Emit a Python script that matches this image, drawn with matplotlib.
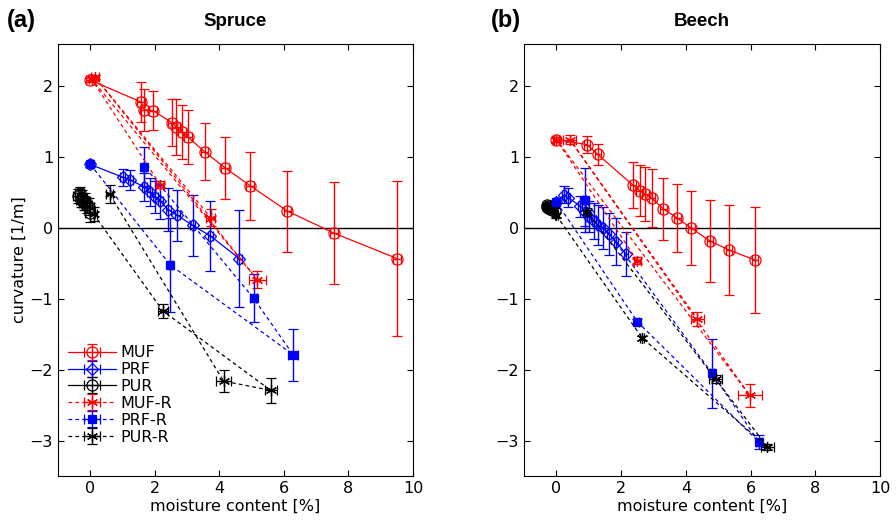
import numpy as np
import matplotlib
matplotlib.use("Agg")
import matplotlib.pyplot as plt

# ---- Spruce ----
sp_muf_x = [0.0, 1.58, 1.67, 1.94, 2.53, 2.66, 2.84, 3.02, 3.54, 4.18, 4.95, 6.11, 7.55, 9.51]
sp_muf_y = [2.09, 1.78, 1.67, 1.66, 1.49, 1.43, 1.36, 1.29, 1.08, 0.85, 0.60, 0.24, -0.07, -0.43]
sp_muf_ye = [0.03, 0.28, 0.30, 0.27, 0.33, 0.40, 0.38, 0.38, 0.40, 0.44, 0.48, 0.57, 0.72, 1.10]
sp_muf_xe = [0.12] * 14

sp_prf_x = [0.0, 1.00, 1.24, 1.68, 1.84, 2.01, 2.17, 2.42, 2.70, 3.17, 3.72, 4.62]
sp_prf_y = [0.90, 0.72, 0.68, 0.58, 0.51, 0.44, 0.38, 0.26, 0.18, 0.04, -0.11, -0.43]
sp_prf_ye = [0.03, 0.12, 0.14, 0.20, 0.20, 0.22, 0.25, 0.30, 0.36, 0.43, 0.50, 0.68]
sp_prf_xe = [0.08] * 12

sp_pur_x = [-0.38, -0.33, -0.30, -0.25, -0.20, -0.15, -0.10, -0.05, 0.0]
sp_pur_y = [0.45, 0.50, 0.40, 0.42, 0.35, 0.38, 0.32, 0.30, 0.22]
sp_pur_ye = [0.10, 0.08, 0.10, 0.12, 0.10, 0.12, 0.10, 0.12, 0.14]
sp_pur_xe = [0.15] * 9

sp_mufr_x = [2.17, 0.05, 5.18, 0.15, 3.73]
sp_mufr_y = [0.61, 2.10, -0.73, 2.13, 0.15]
sp_mufr_ye = [0.05, 0.03, 0.12, 0.03, 0.12]
sp_mufr_xe = [0.12, 0.08, 0.25, 0.12, 0.13]

sp_prfr_x = [0.0, 2.48, 6.29, 5.06, 1.68]
sp_prfr_y = [0.90, -0.52, -1.79, -0.99, 0.87]
sp_prfr_ye = [0.03, 0.67, 0.37, 0.34, 0.28]
sp_prfr_xe = [0.05, 0.05, 0.15, 0.12, 0.05]

sp_purr_x = [0.10, 2.25, 5.59, 4.13, 0.60]
sp_purr_y = [0.20, -1.17, -2.29, -2.16, 0.48]
sp_purr_ye = [0.10, 0.10, 0.18, 0.16, 0.13]
sp_purr_xe = [0.10, 0.15, 0.19, 0.23, 0.10]

# ---- Beech ----
be_muf_x = [0.0, 0.94, 1.28, 2.36, 2.57, 2.75, 2.95, 3.31, 3.74, 4.17, 4.74, 5.34, 6.14]
be_muf_y = [1.25, 1.18, 1.04, 0.61, 0.53, 0.48, 0.42, 0.27, 0.14, 0.0, -0.18, -0.31, -0.45]
be_muf_ye = [0.03, 0.12, 0.15, 0.33, 0.36, 0.38, 0.41, 0.44, 0.48, 0.52, 0.58, 0.64, 0.75]
be_muf_xe = [0.1] * 13

be_prf_x = [0.0, 0.23, 0.37, 0.74, 0.87, 1.02, 1.15, 1.28, 1.43, 1.62, 1.85, 2.14]
be_prf_y = [0.37, 0.47, 0.43, 0.31, 0.23, 0.16, 0.10, 0.04, 0.0, -0.08, -0.19, -0.36]
be_prf_ye = [0.03, 0.12, 0.13, 0.15, 0.20, 0.22, 0.25, 0.28, 0.30, 0.30, 0.33, 0.31]
be_prf_xe = [0.06] * 12

be_pur_x = [-0.30, -0.28, -0.25, -0.22, -0.20, -0.17, -0.12, -0.05]
be_pur_y = [0.30, 0.32, 0.28, 0.31, 0.27, 0.29, 0.26, 0.24]
be_pur_ye = [0.04] * 8
be_pur_xe = [0.08] * 8

be_mufr_x = [2.50, 0.0, 5.97, 0.42, 4.35]
be_mufr_y = [-0.46, 1.25, -2.36, 1.25, -1.28]
be_mufr_ye = [0.05, 0.03, 0.16, 0.06, 0.10]
be_mufr_xe = [0.10, 0.08, 0.37, 0.20, 0.20]

be_prfr_x = [0.0, 2.50, 6.26, 4.81, 0.87]
be_prfr_y = [0.37, -1.32, -3.02, -2.05, 0.40]
be_prfr_ye = [0.03, 0.04, 0.10, 0.49, 0.45]
be_prfr_xe = [0.05, 0.06, 0.10, 0.07, 0.05]

be_purr_x = [0.0, 2.65, 6.52, 4.92, 0.94]
be_purr_y = [0.18, -1.55, -3.09, -2.13, 0.23]
be_purr_ye = [0.03, 0.03, 0.04, 0.06, 0.05]
be_purr_xe = [0.05, 0.06, 0.19, 0.20, 0.05]

labels = ["MUF", "PRF", "PUR", "MUF-R", "PRF-R", "PUR-R"]
colors = ["red", "blue", "black", "red", "blue", "black"]
markers = ["o", "D", "o", (6, 2, 0), "s", (6, 2, 0)]

spruce = [
    (sp_muf_x, sp_muf_y, sp_muf_xe, sp_muf_ye),
    (sp_prf_x, sp_prf_y, sp_prf_xe, sp_prf_ye),
    (sp_pur_x, sp_pur_y, sp_pur_xe, sp_pur_ye),
    (sp_mufr_x, sp_mufr_y, sp_mufr_xe, sp_mufr_ye),
    (sp_prfr_x, sp_prfr_y, sp_prfr_xe, sp_prfr_ye),
    (sp_purr_x, sp_purr_y, sp_purr_xe, sp_purr_ye),
]
beech = [
    (be_muf_x, be_muf_y, be_muf_xe, be_muf_ye),
    (be_prf_x, be_prf_y, be_prf_xe, be_prf_ye),
    (be_pur_x, be_pur_y, be_pur_xe, be_pur_ye),
    (be_mufr_x, be_mufr_y, be_mufr_xe, be_mufr_ye),
    (be_prfr_x, be_prfr_y, be_prfr_xe, be_prfr_ye),
    (be_purr_x, be_purr_y, be_purr_xe, be_purr_ye),
]

plt.rcParams['font.family'] = ['DejaVu Sans']
fig = plt.figure(figsize=(8.96, 5.29), dpi=100)
ax1 = fig.add_axes([58 / 896, 53 / 529, 355 / 896, 432 / 529])
ax2 = fig.add_axes([524 / 896, 53 / 529, 356 / 896, 432 / 529])


def draw(ax, sets):
    for i, (x, y, xe, ye) in enumerate(sets):
        dashed = i >= 3
        filled = markers[i] == "s"
        ms = 6 if filled else (8 if markers[i] != "D" else 6)
        ax.errorbar(x, y, xerr=xe, yerr=ye, color=colors[i],
                    ls=(0, (3, 2.5)) if dashed else "-",
                    lw=0.9, marker=markers[i], ms=ms,
                    mfc=colors[i] if filled else "none",
                    mec=colors[i], mew=0.9, elinewidth=1.0,
                    capsize=3.5, capthick=1.0, label=labels[i])
    ax.axhline(0, color="black", lw=1.0, zorder=0)
    ax.set_xlim(-1, 10)
    ax.set_ylim(-3.5, 2.6)
    ax.set_xticks([0, 2, 4, 6, 8, 10])
    ax.set_yticks([-3, -2, -1, 0, 1, 2])
    ax.tick_params(direction="in", top=True, right=True, length=4,
                   labelsize=11.5, width=0.8)
    for s in ax.spines.values():
        s.set_linewidth(0.8)
    ax.set_xlabel("moisture content [%]", fontsize=11.5, labelpad=2)


draw(ax1, spruce)
draw(ax2, beech)
ax1.set_ylabel("curvature [1/m]", fontsize=11.5, labelpad=2)

ax1.legend(loc="lower left", frameon=False, fontsize=11.5, handlelength=3,
           handletextpad=0.3, labelspacing=0.12, borderaxespad=0.2,
           bbox_to_anchor=(0.0, 0.05))

title_font = ['Liberation Sans Narrow', 'Liberation Sans', 'DejaVu Sans']
ax1.set_title("Spruce", fontsize=13.5, fontweight="bold", family=title_font, pad=13)
ax2.set_title("Beech", fontsize=13.5, fontweight="bold", family=title_font, pad=13)
fig.text(21 / 896, 1 - 20 / 529, "(a)", fontsize=17, fontweight="bold",
         family=title_font, ha="center", va="center")
fig.text(506 / 896, 1 - 20 / 529, "(b)", fontsize=17, fontweight="bold",
         family=title_font, ha="center", va="center")

fig.savefig("out.png", dpi=100)
